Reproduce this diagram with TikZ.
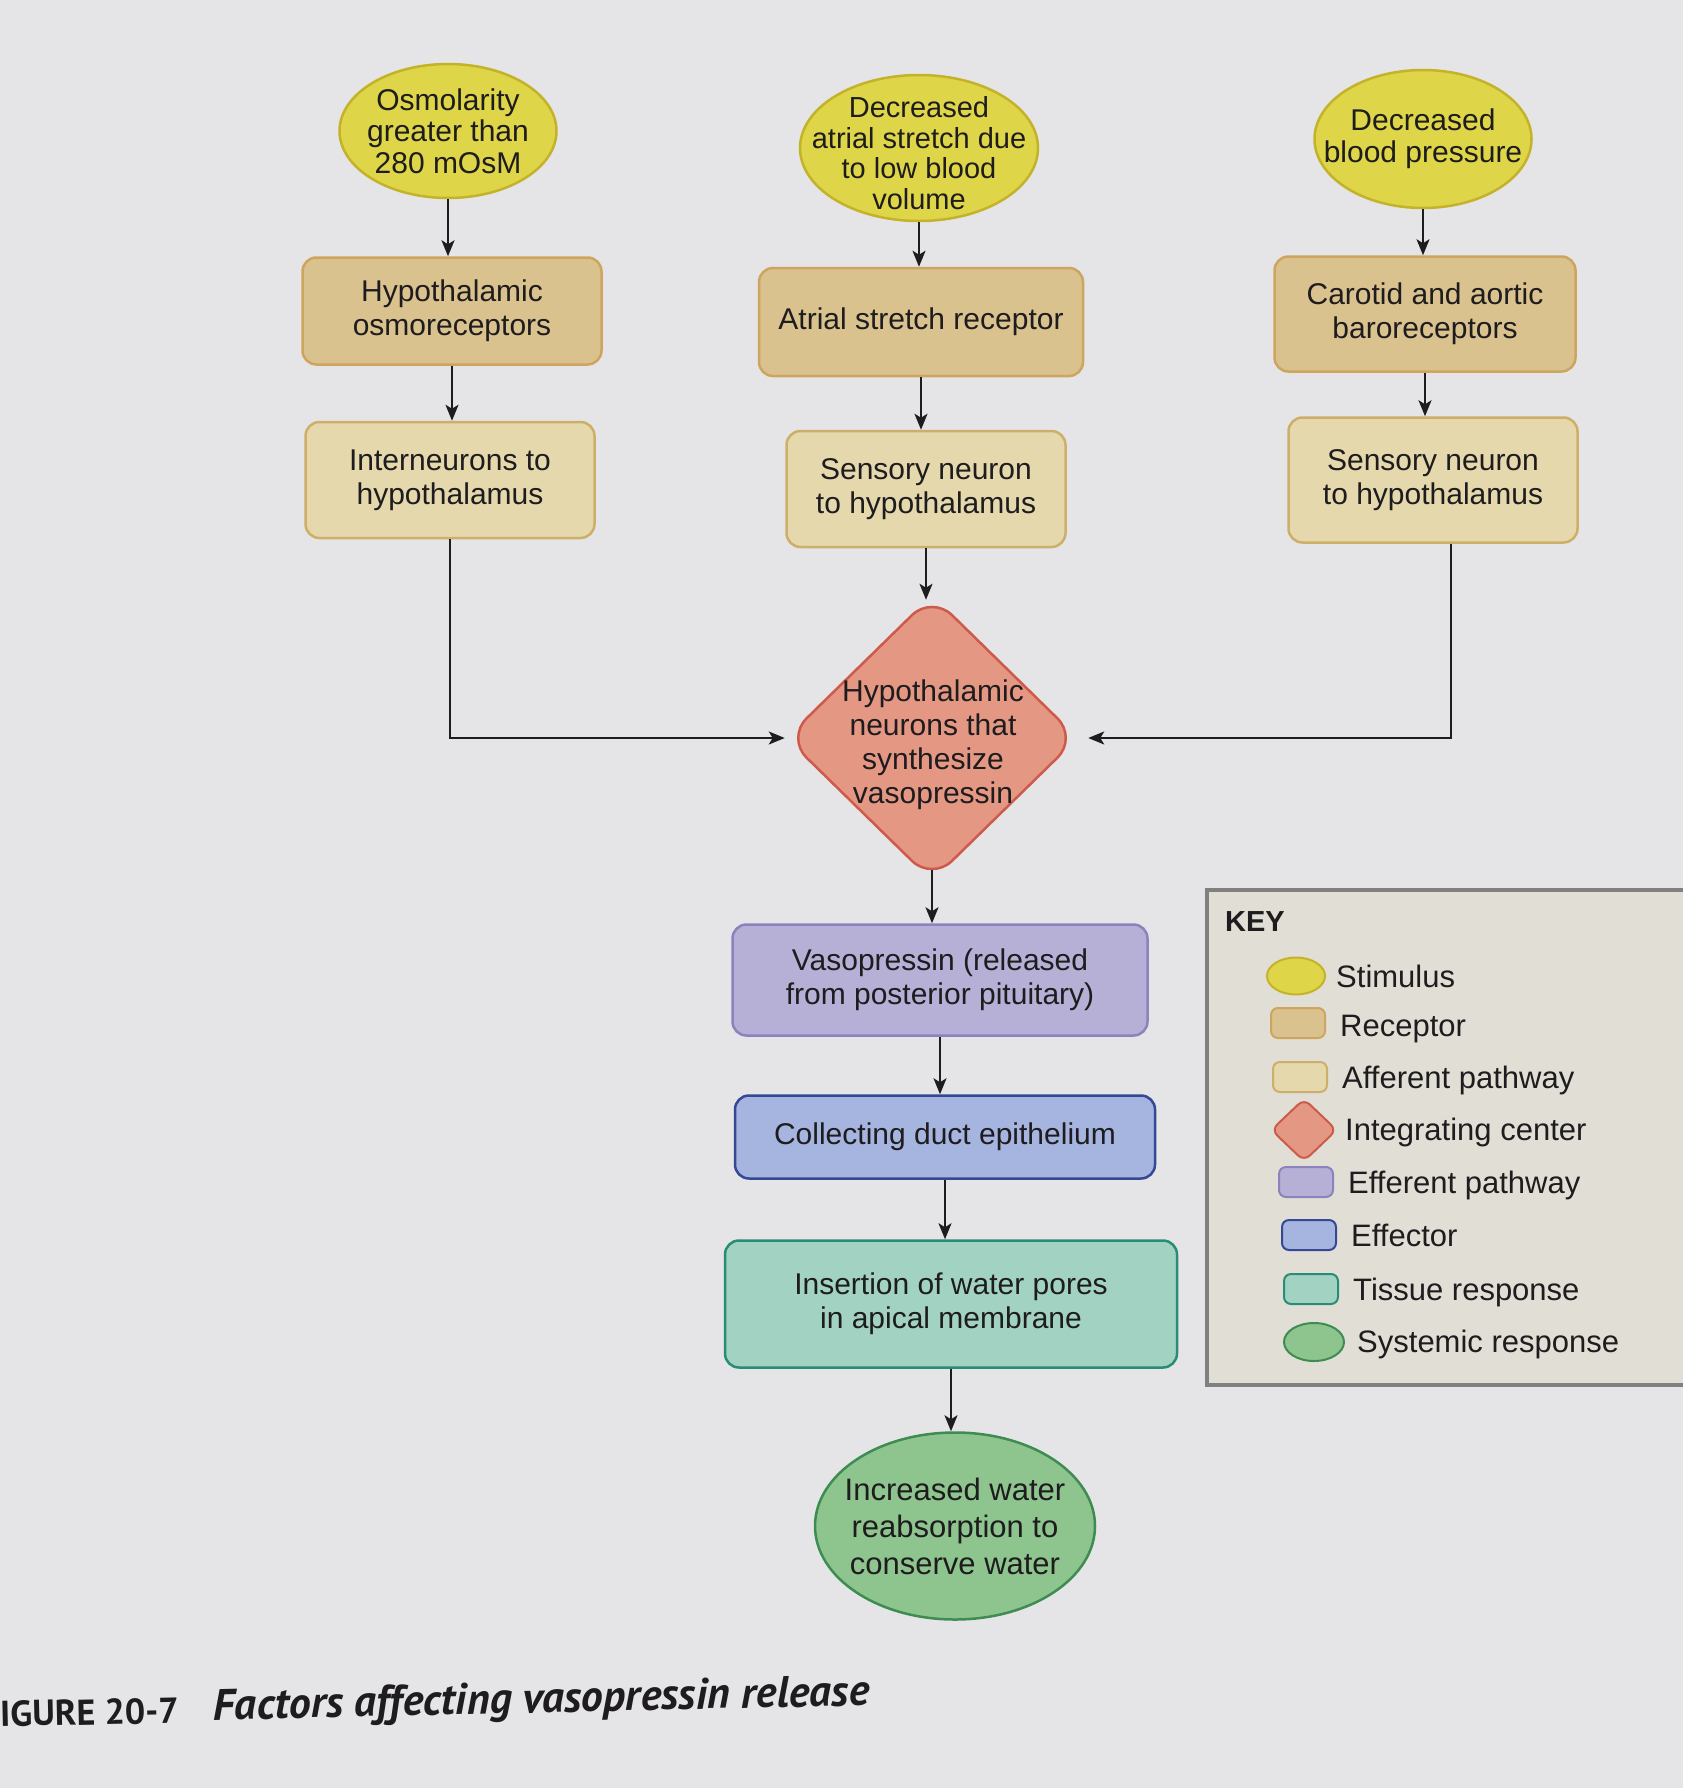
\documentclass[tikz,border=0pt]{standalone}
\usepackage{fontspec}
\setmainfont{Liberation Sans}
\newfontfamily\capfont{PT Sans}
\usetikzlibrary{shapes.geometric,arrows.meta}
\definecolor{paper}{RGB}{229,229,231}
\definecolor{keyfill}{RGB}{225,223,213}
\definecolor{keyline}{RGB}{128,128,128}
\definecolor{stimfill}{RGB}{222,214,72}
\definecolor{stimline}{RGB}{196,178,42}
\definecolor{recfill}{RGB}{218,194,142}
\definecolor{recline}{RGB}{205,165,95}
\definecolor{afffill}{RGB}{229,216,172}
\definecolor{affline}{RGB}{205,175,105}
\definecolor{intfill}{RGB}{228,152,132}
\definecolor{intline}{RGB}{205,90,75}
\definecolor{efffill}{RGB}{182,176,214}
\definecolor{effline}{RGB}{140,130,190}
\definecolor{eftfill}{RGB}{166,180,224}
\definecolor{eftline}{RGB}{52,72,150}
\definecolor{tisfill}{RGB}{162,210,194}
\definecolor{tisline}{RGB}{42,140,118}
\definecolor{sysfill}{RGB}{142,196,142}
\definecolor{sysline}{RGB}{62,140,82}
\definecolor{ink}{RGB}{30,28,30}
\begin{document}
\begin{tikzpicture}[x=1pt,y=-1pt,
  every node/.style={text=ink},
  txt/.style={font=\fontsize{30}{34}\selectfont, align=center},
  stim/.style={ellipse, draw=stimline, fill=stimfill, line width=2.5pt, inner xsep=-50pt, inner ysep=-30pt, txt},
  sysr/.style={ellipse, draw=sysline, fill=sysfill, line width=2.5pt, inner xsep=-50pt, inner ysep=-30pt, txt},
  recbox/.style={rectangle, rounded corners=14pt, draw=recline, fill=recfill, line width=2.5pt, txt},
  affbox/.style={rectangle, rounded corners=14pt, draw=affline, fill=afffill, line width=2.5pt, txt},
  effbox/.style={rectangle, rounded corners=14pt, draw=effline, fill=efffill, line width=2.5pt, txt},
  eftbox/.style={rectangle, rounded corners=14pt, draw=eftline, fill=eftfill, line width=2.5pt, txt},
  tisbox/.style={rectangle, rounded corners=14pt, draw=tisline, fill=tisfill, line width=2.5pt, txt},
  intc/.style={diamond, rounded corners=28pt, draw=intline, fill=intfill, line width=2.5pt, inner xsep=-60pt, inner ysep=-50pt, txt},
  inner/.style={txt, inner sep=0pt},
  arr/.style={draw=ink, line width=2.2pt, -{Stealth[length=16pt,width=13pt,inset=4pt]}},
  keytxt/.style={font=\fontsize{31}{36}\selectfont, anchor=west, text height=22pt, text depth=0pt, inner sep=0pt},
  keysmall/.style={line width=2pt, minimum width=54pt, minimum height=30pt, rounded corners=7pt}
]
\useasboundingbox (0,0) rectangle (1683,1788);
\fill[paper] (0,0) rectangle (1683,1788);

% key frame
\fill[keyfill] (1207,890) rectangle (1683,1385);
\draw[keyline, line width=4.5pt] (1683,890) -- (1207,890) -- (1207,1385) -- (1683,1385);

% stimuli
\node[stim, minimum width=217pt, minimum height=134pt, font=\fontsize{30}{31.5}\selectfont] (s1) at (448,131) {Osmolarity\\greater than\\280 mOsM};
\node[stim, minimum width=238pt, minimum height=146pt] (s2) at (919,148) {};
\node[inner, font=\fontsize{29}{30.5}\selectfont] (s2t) at (919,153) {Decreased\\atrial stretch due\\to low blood\\volume};
\node[stim, minimum width=217pt, minimum height=138pt, font=\fontsize{30}{32}\selectfont] (s3) at (1423,139) {Decreased\\blood pressure};

% receptors
\node[recbox, minimum width=299pt, minimum height=107pt] (r1) at (452,311) {Hypothalamic\\osmoreceptors};
\node[recbox, minimum width=324pt, minimum height=108pt] (r2) at (921,322) {Atrial stretch receptor};
\node[recbox, minimum width=301pt, minimum height=115pt] (r3) at (1425,314) {Carotid and aortic\\baroreceptors};

% afferent pathways
\node[affbox, minimum width=289pt, minimum height=116pt] (a1) at (450,480) {Interneurons to\\hypothalamus};
\node[affbox, minimum width=279pt, minimum height=116pt] (a2) at (926,489) {Sensory neuron\\to hypothalamus};
\node[affbox, minimum width=289pt, minimum height=125pt] (a3) at (1433,480) {Sensory neuron\\to hypothalamus};

% integrating center
\node[intc, minimum width=292pt, minimum height=286pt] (ic) at (932,738) {};
\node[inner] (ict) at (933,745) {Hypothalamic\\neurons that\\synthesize\\vasopressin};

% efferent, effector, tissue, systemic
\node[effbox, minimum width=415pt, minimum height=111pt] (ef) at (940,980) {Vasopressin (released\\from posterior pituitary)};
\node[eftbox, minimum width=420pt, minimum height=83pt] (eft) at (945,1137) {Collecting duct epithelium};
\node[tisbox, minimum width=452pt, minimum height=127pt] (ts) at (951,1304) {Insertion of water pores\\in apical membrane};
\node[sysr, minimum width=280pt, minimum height=187pt, font=\fontsize{31}{37}\selectfont] (sy) at (955,1526) {Increased water\\reabsorption to\\conserve water};

% connectors
\draw[arr] (s1.south) -- (s1.south |- r1.north);
\draw[arr] (r1.south) -- (r1.south |- a1.north);
\draw[arr] (s2.south) -- (s2.south |- r2.north);
\draw[arr] (r2.south) -- (r2.south |- a2.north);
\draw[arr, shorten >=-6pt] (a2.south) -- (a2.south |- ic.north);
\draw[arr] (s3.south) -- (s3.south |- r3.north);
\draw[arr] (r3.south) -- (r3.south |- a3.north);
\draw[arr] (a1.south) |- (ic.west);
\draw[arr, shorten >=9pt] ([xshift=18pt]a3.south) |- (ic.east);
\draw[arr, shorten <=-12pt] (ic.south) -- (ic.south |- ef.north);
\draw[arr] (ef.south) -- (ef.south |- eft.north);
\draw[arr] (eft.south) -- (eft.south |- ts.north);
\draw[arr] (ts.south) -- (ts.south |- sy.north);

% key
\node[font=\bfseries\fontsize{29}{34}\selectfont, anchor=west, text height=21pt, text depth=0pt, inner sep=0pt] (keyt) at (1225,921) {KEY};
\node[stim, line width=2pt, minimum width=58pt, minimum height=37pt] (k1) at (1296,976) {};
\node[keytxt] (k1t) at (1336,976) {Stimulus};
\node[recbox, keysmall] (k2) at (1298,1023) {};
\node[keytxt] (k2t) at (1340,1025) {Receptor};
\node[affbox, keysmall] (k3) at (1300,1077) {};
\node[keytxt] (k3t) at (1342,1077) {Afferent pathway};
\node[intc, line width=2pt, rounded corners=8pt, minimum width=66pt, minimum height=63pt] (k4) at (1304,1130) {};
\node[keytxt] (k4t) at (1345,1129) {Integrating center};
\node[effbox, keysmall] (k5) at (1306,1182) {};
\node[keytxt] (k5t) at (1348,1182) {Efferent pathway};
\node[eftbox, keysmall] (k6) at (1309,1235) {};
\node[keytxt] (k6t) at (1351,1235) {Effector};
\node[tisbox, keysmall] (k7) at (1311,1289) {};
\node[keytxt] (k7t) at (1353,1289) {Tissue response};
\node[sysr, line width=2pt, minimum width=60pt, minimum height=38pt] (k8) at (1314,1342) {};
\node[keytxt] (k8t) at (1357,1341) {Systemic response};

% caption
\node[anchor=west, inner sep=0pt, rotate=1.2, text=ink, font=\capfont\bfseries\fontsize{36}{40}\selectfont] (fig) at (0,1714) {IGURE 20-7};
\node[anchor=west, inner sep=0pt, rotate=1.3, text=ink, font=\capfont\bfseries\itshape\fontsize{44}{48}\selectfont] (title) at (213,1709) {Factors affecting vasopressin release};
\end{tikzpicture}
\end{document}
